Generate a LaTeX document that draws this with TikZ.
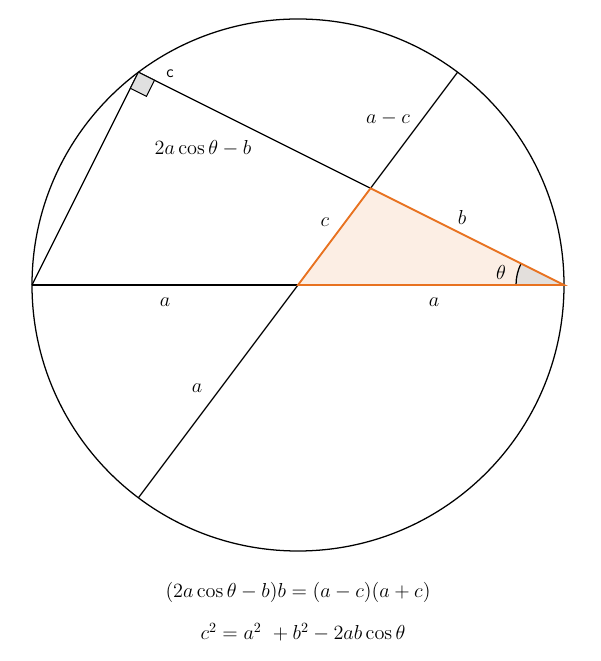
\documentclass[tikz,border=0pt]{standalone}
\usepackage{tikz}
\usetikzlibrary{angles}
\definecolor{triorange}{RGB}{232,114,32}

\begin{document}
\begin{tikzpicture}[line width=0.9pt,
    lbl/.style={font=\Large, inner sep=1pt},
    orangeline/.style={draw=triorange, line width=1.3pt}]
  \useasboundingbox (-7.45,-9.4) rectangle (7.55,7.125);
  % points on the circle and the chord crossing
  \coordinate (O) at (0,0);
  \coordinate (R) at (0:6.65);
  \coordinate (L) at (180:6.65);
  \coordinate (T) at (126.87:6.65);
  \coordinate (U) at (53.13:6.65);
  \coordinate (D) at (233.13:6.65);
  \coordinate (P) at (intersection of O--U and R--T);

  % the shaded triangle and its angle
  \fill[triorange!12] (O) -- (P) -- (R) -- cycle;
  \pic[draw, fill=black!15, fill opacity=0.7, angle radius=1.2cm] {angle=P--R--O};

  \draw (O) circle (6.65);
  \draw (L) -- (O);
  \draw (D) -- (O);
  \draw (P) -- (U);
  \draw (T) -- (P);
  \draw (L) -- (T);
  \draw[orangeline] (O) -- (P) -- (R) -- cycle;

  % right angle at T
  \filldraw[fill=black!12, line width=0.7pt] (T) -- ++(-26.57:0.45)
    -- ++(243.43:0.45) -- ++(153.43:0.45) -- cycle;

  \node[lbl] (lac) at (2.25,4.175) {$a-c$};
  \node[lbl] (lchord) at (-2.375,3.425) {$2a\cos\theta-b$};
  \node[font=\large] (lsc) at (-3.2,5.275) {\textsf{c}};
  \node[lbl] (lc) at (0.675,1.575) {$c$};
  \node[lbl] (lb) at (4.1,1.7) {$b$};
  \node[lbl] (ltheta) at (5.075,0.325) {$\theta$};
  \node[lbl] (la1) at (-3.325,-0.425) {$a$};
  \node[lbl] (la2) at (3.4,-0.425) {$a$};
  \node[lbl] (la3) at (-2.525,-2.575) {$a$};

  \node[lbl] (eqa) at (0,-7.675) {$(2a\cos\theta-b)b=(a-c)(a+c)$};
  \node[lbl] (eqb) at (0.125,-8.675) {$c^2=a^2\ +b^2-2ab\cos\theta$};
\end{tikzpicture}
\end{document}
